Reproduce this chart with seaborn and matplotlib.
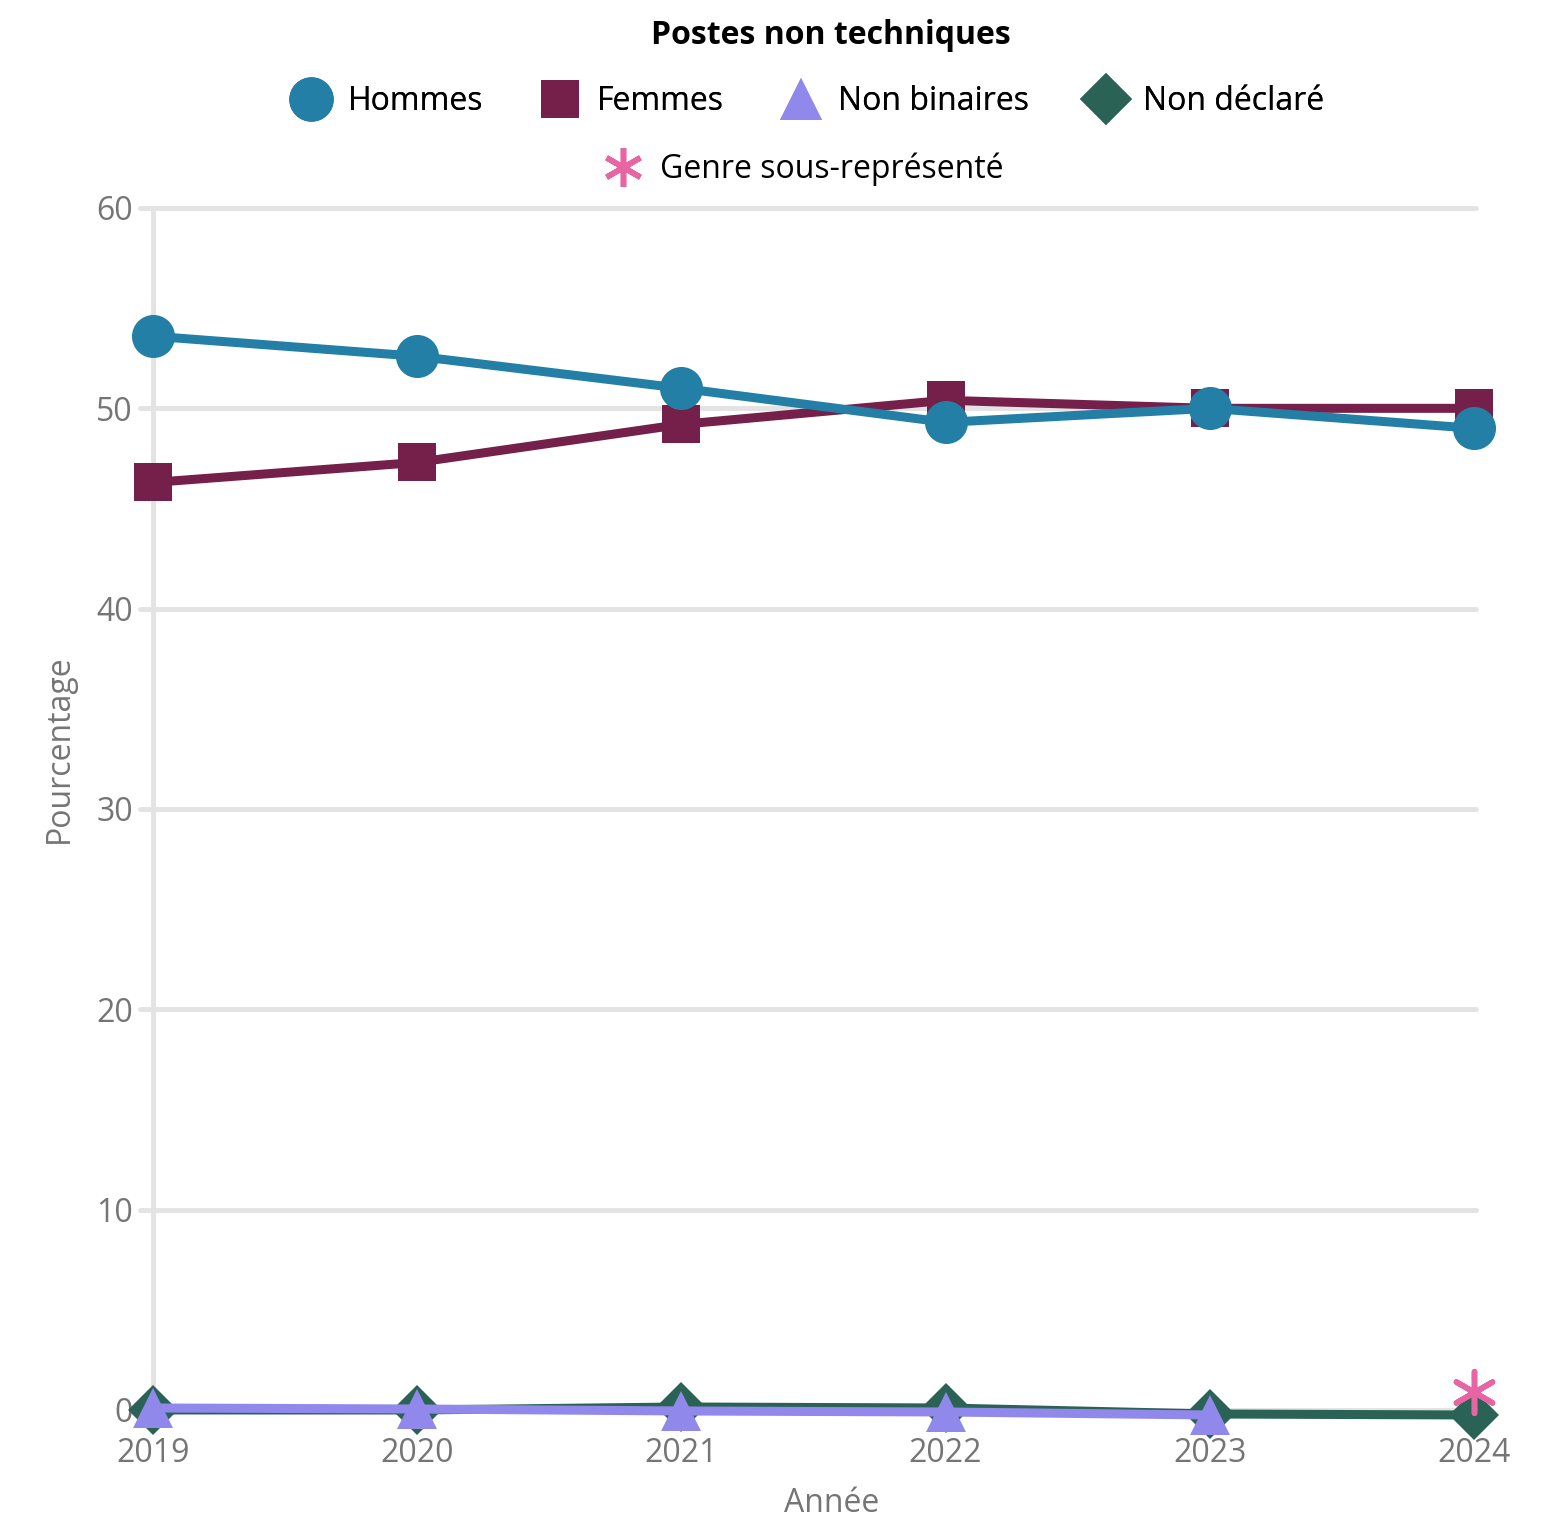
import numpy as np
import pandas as pd
import matplotlib
matplotlib.use("Agg")
import matplotlib.pyplot as plt
from matplotlib.lines import Line2D
import seaborn as sns

# data
annees = [2019, 2020, 2021, 2022, 2023, 2024]
hommes = [53.6, 52.6, 51.0, 49.3, 50.0, 49.0]
femmes = [46.3, 47.3, 49.2, 50.4, 50.0, 50.0]
non_binaires = [0.1, 0.05, -0.05, -0.1, -0.25, np.nan]
non_declare = [0.0, 0.0, 0.15, 0.1, -0.2, -0.25]
sous_rep_annee = [2024]
sous_rep_valeur = [0.9]

y_ticks = [0, 10, 20, 30, 40, 50, 60]

sns.set_theme(style="white")
plt.rcParams['font.family'] = ['Open Sans', 'DejaVu Sans']

fig = plt.figure(figsize=(15.51, 15.24), dpi=100)
W, H = 1551, 1524
ax = fig.add_axes([140 / W, 1 - 1420 / H, (1476 - 140) / W, (1420 - 208) / H])

series = [
    ("Non déclaré", non_declare, "#2a6355", "D", 25),
    ("Non binaires", non_binaires, "#9188ec", "^", 29),
    ("Femmes", femmes, "#74204b", "s", 27),
    ("Hommes", hommes, "#237fa6", "o", 31),
]
for i, (nom, vals, col, mk, ms) in enumerate(series):
    df = pd.DataFrame({"annee": annees, "val": vals}).dropna()
    sns.lineplot(data=df, x="annee", y="val", ax=ax, color=col, linewidth=6.5,
                 marker=mk, markersize=ms, markeredgewidth=0, zorder=3 + i,
                 clip_on=False)

ax.scatter(sous_rep_annee, sous_rep_valeur, marker=(6, 2, 0), s=900, color="#e865a3",
           linewidths=4, zorder=10, clip_on=False)

ax.set_xlim(2018.951, 2024.0076)
ax.set_ylim(-0.5, 60)
ax.set_yticks(y_ticks)
ax.set_xticks(annees)
ax.grid(axis="y", color="#e3e3e3", linewidth=3.5, clip_on=False)
ax.axvline(2019, color="#e3e3e3", linewidth=3.5, zorder=1)
for s in ax.spines.values():
    s.set_visible(False)
ax.tick_params(axis="both", length=0, labelsize=23, labelcolor="#757575")
ax.tick_params(axis="y", pad=5)
ax.tick_params(axis="x", pad=12)
ax.set_xlabel("Année", fontsize=23, color="#757575")
ax.set_ylabel("Pourcentage", fontsize=23, color="#757575")
ax.xaxis.set_label_coords(0.518, -0.069)
ax.yaxis.set_label_coords(-0.06, 0.554)
ax.xaxis.label.set_va("center")
ax.yaxis.label.set_va("center")

fig.text(0.536, 1 - 35 / H, "Postes non techniques", ha="center", va="center",
         fontsize=23, fontweight="bold", color="black")

handles = [Line2D([], [], linestyle="none", marker=mk, markersize=ms + 1, color=col,
                  markeredgewidth=0, label=nom)
           for nom, vals, col, mk, ms in [series[3], series[2], series[1], series[0]]]
leg1 = fig.legend(handles=handles, loc="center", bbox_to_anchor=(808 / W, 1 - 102 / H),
                  ncol=4, frameon=False, fontsize=23, handletextpad=0.55,
                  columnspacing=1.82, handlelength=1.2, labelcolor="black")
star = Line2D([], [], linestyle="none", marker=(6, 2, 0), markersize=28,
              markeredgewidth=4, color="#e865a3", label="Genre sous-représenté")
leg2 = fig.legend(handles=[star], loc="center", bbox_to_anchor=(804 / W, 1 - 169 / H),
                  frameon=False, fontsize=23, handletextpad=0.55, handlelength=1.2,
                  labelcolor="black")
fig.add_artist(leg1)

fig.savefig("out.png", dpi=100)
